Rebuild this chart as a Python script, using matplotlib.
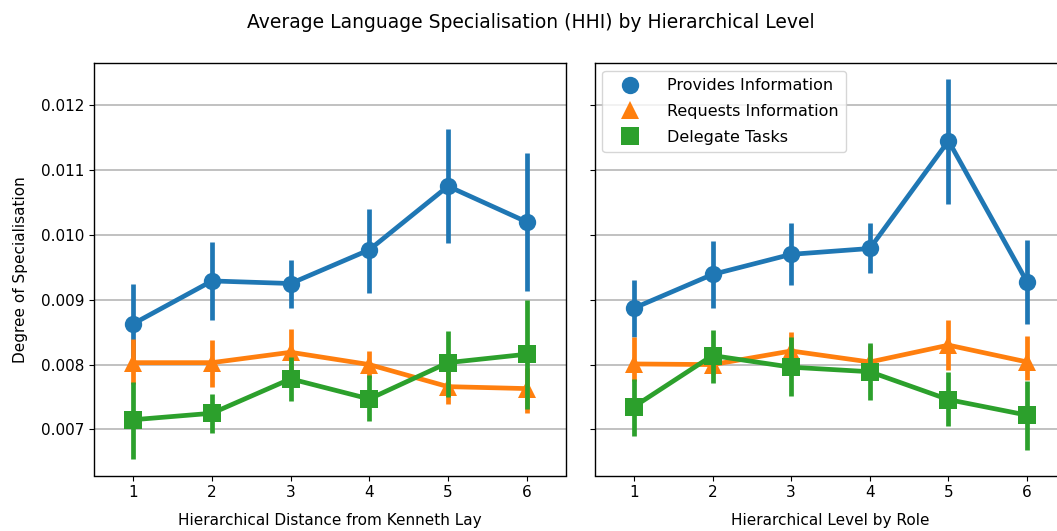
import matplotlib
matplotlib.use("Agg")
import matplotlib.pyplot as plt
from matplotlib.lines import Line2D

levels = [1, 2, 3, 4, 5, 6]
series_names = ["Provides Information", "Requests Information", "Delegate Tasks"]

# Left panel: distance from Kenneth Lay (mean, ci low, ci high)
dist_provides = [0.00863, 0.00929, 0.00925, 0.00977, 0.01075, 0.01020]
dist_provides_lo = [0.00803, 0.00868, 0.00888, 0.00911, 0.00987, 0.00914]
dist_provides_hi = [0.00924, 0.00989, 0.00962, 0.01040, 0.01163, 0.01127]

dist_requests = [0.00803, 0.00803, 0.00819, 0.00800, 0.00766, 0.00763]
dist_requests_lo = [0.00770, 0.00766, 0.00785, 0.00780, 0.00740, 0.00725]
dist_requests_hi = [0.00839, 0.00838, 0.00855, 0.00821, 0.00790, 0.00795]

dist_delegate = [0.00715, 0.00725, 0.00778, 0.00747, 0.00803, 0.00816]
dist_delegate_lo = [0.00654, 0.00695, 0.00744, 0.00713, 0.00750, 0.00732]
dist_delegate_hi = [0.00773, 0.00755, 0.00812, 0.00784, 0.00852, 0.00900]

# Right panel: level by role
role_provides = [0.00887, 0.00939, 0.00970, 0.00979, 0.01145, 0.00927]
role_provides_lo = [0.00843, 0.00887, 0.00923, 0.00941, 0.01048, 0.00862]
role_provides_hi = [0.00930, 0.00991, 0.01018, 0.01018, 0.01241, 0.00992]

role_requests = [0.00801, 0.00800, 0.00821, 0.00804, 0.00830, 0.00804]
role_requests_lo = [0.00775, 0.00786, 0.00790, 0.00780, 0.00791, 0.00776]
role_requests_hi = [0.00843, 0.00820, 0.00851, 0.00830, 0.00869, 0.00844]

role_delegate = [0.00735, 0.00814, 0.00796, 0.00789, 0.00746, 0.00722]
role_delegate_lo = [0.00690, 0.00771, 0.00751, 0.00746, 0.00706, 0.00669]
role_delegate_hi = [0.00778, 0.00853, 0.00843, 0.00833, 0.00788, 0.00775]

colors = ["#1f77b4", "#ff7f0e", "#2ca02c"]
markers = ["o", "^", "s"]

plt.rcParams["font.family"] = ["DejaVu Sans"]

fig = plt.figure(figsize=(10.57, 5.31), dpi=100)
ax1 = fig.add_axes([94 / 1057, 1 - 475.5 / 531, 472 / 1057, 412.5 / 531])
ax2 = fig.add_axes([594.5 / 1057, 1 - 475.5 / 531, 472 / 1057, 412.5 / 531], sharey=ax1)

left_data = [
    (dist_provides, dist_provides_lo, dist_provides_hi),
    (dist_requests, dist_requests_lo, dist_requests_hi),
    (dist_delegate, dist_delegate_lo, dist_delegate_hi),
]
right_data = [
    (role_provides, role_provides_lo, role_provides_hi),
    (role_requests, role_requests_lo, role_requests_hi),
    (role_delegate, role_delegate_lo, role_delegate_hi),
]


def draw_points(ax, data):
    for (mean, lo, hi), c, m in zip(data, colors, markers):
        ax.vlines(levels, lo, hi, color=c, lw=3.4)
        ax.plot(levels, mean, color=c, lw=3.4, marker=m, markersize=12.5,
                markeredgewidth=0)
    ax.set_xlim(0.5, 6.5)
    ax.set_xticks(levels)
    ax.grid(axis="y", color="#b0b0b0", lw=1.1, zorder=0)
    ax.set_axisbelow(True)
    ax.tick_params(labelsize=11)
    for s in ax.spines.values():
        s.set_linewidth(1.0)


draw_points(ax1, left_data)
draw_points(ax2, right_data)

ax1.set_ylim(0.00629, 0.01265)
ax1.set_yticks([0.007, 0.008, 0.009, 0.010, 0.011, 0.012])
ax1.set_yticklabels(["0.007", "0.008", "0.009", "0.010", "0.011", "0.012"])
ax2.tick_params(labelleft=False)

ax1.set_ylabel("Degree of Specialisation", fontsize=11, labelpad=9)
ax1.set_xlabel("Hierarchical Distance from Kenneth Lay", fontsize=11, labelpad=9)
ax2.set_xlabel("Hierarchical Level by Role", fontsize=11, labelpad=9)

handles = [Line2D([], [], color=c, marker=m, ls="", markersize=12.5, markeredgewidth=0)
           for c, m in zip(colors, markers)]
ax2.legend(handles, series_names, loc="upper left", fontsize=11.5,
           handlelength=2.5, handletextpad=1.1, borderpad=0.45,
           labelspacing=0.68)

fig.suptitle("Average Language Specialisation (HHI) by Hierarchical Level",
             fontsize=13.5, y=0.975, x=0.502)

fig.savefig("out.png", dpi=100)
